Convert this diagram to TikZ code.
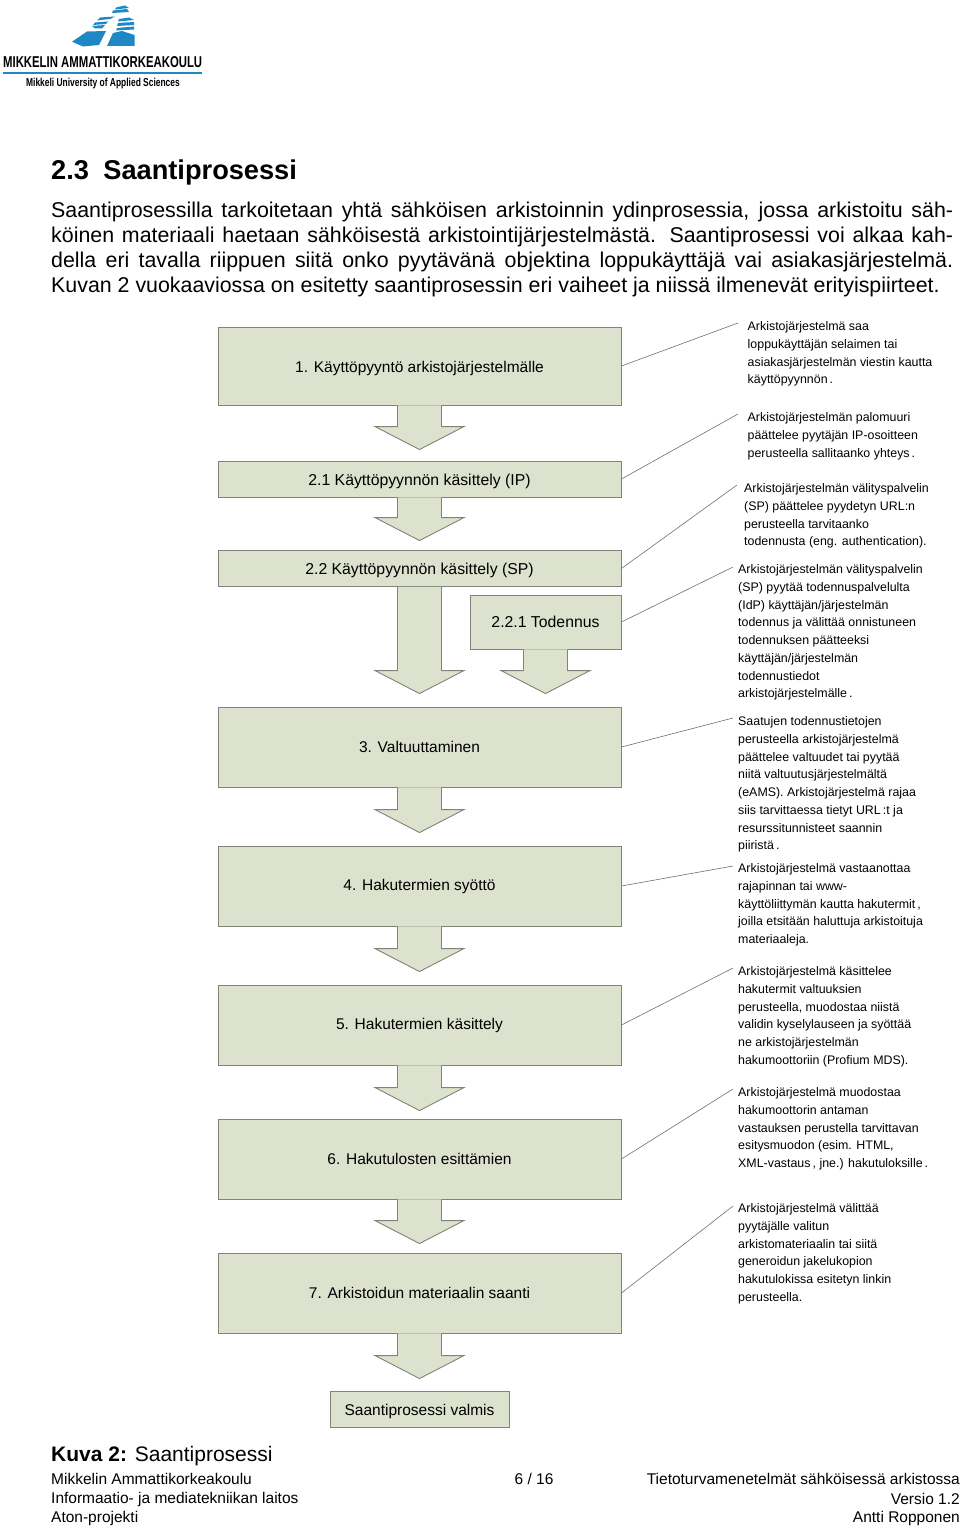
\documentclass[tikz,border=0pt]{standalone}
\usepackage{fontspec}
\setmainfont{Liberation Sans}
\usetikzlibrary{calc}

\definecolor{boxfill}{RGB}{221,226,206}
\definecolor{boxline}{RGB}{128,132,118}
\definecolor{leaderline}{RGB}{110,110,110}
\definecolor{logoblue}{RGB}{30,136,196}

\tikzset{
    stepbox/.style={rectangle, draw=boxline, fill=boxfill, line width=0.9pt, inner sep=0pt, align=center, font=\fontsize{15.5}{18}\selectfont},
    lowtext/.style={text height=12.1pt, text depth=0pt},
    widetext/.style={font=\fontsize{15.8}{18}\selectfont},
    note/.style={anchor=north west, inner sep=0pt, align=left, font=\fontsize{12.4}{17.75}\selectfont},
    leader/.style={draw=leaderline, line width=0.6pt},
    bodytext/.style={anchor=west, inner sep=0pt, font=\fontsize{21.37}{25}\selectfont},
    foot/.style={inner sep=0pt, font=\fontsize{15.5}{19.5}\selectfont},
    logopart/.style={fill=logoblue, draw=none}
}

% block arrow: source node, target node, gap above the target
\newcommand{\blockarrow}[3]{
    \path let \p1=(#1.south), \p2=(#2.north) in
        coordinate (tip) at (\x1,\y2+#3pt)
        coordinate (top) at (\x1,\y1);
    \fill [boxfill] let \p1=(top), \p2=(tip) in
        (\x1-22pt,\y1) -- (\x1-22pt,\y2+23pt) -- (\x1-44.5pt,\y2+23pt) -- (tip)
        -- (\x1+44.5pt,\y2+23pt) -- (\x1+22pt,\y2+23pt) -- (\x1+22pt,\y1) -- cycle;
    \draw [boxline, line width=0.9pt] let \p1=(top), \p2=(tip) in
        (\x1-22pt,\y1) -- (\x1-22pt,\y2+23pt) -- (\x1-44.5pt,\y2+23pt) -- (tip)
        -- (\x1+44.5pt,\y2+23pt) -- (\x1+22pt,\y2+23pt) -- (\x1+22pt,\y1);
}

\begin{document}
\begin{tikzpicture}[x=1pt, y=-1pt]

\useasboundingbox (0,0) rectangle (960,1528);

% logo
\fill [logopart] (72,41.7) -- (87,31.5) -- (106,31) -- (99,45) -- (83,46.5) -- cycle;
\fill [logopart] (107,46) -- (113,33) -- (122,31) -- (134.5,35) -- (134.5,46) -- cycle;
\fill [logopart] (92,26) -- (105,25) -- (102,28.5) -- (95,28.5) -- cycle;
\fill [logopart] (95,22.5) -- (108,21.5) -- (106,24) -- (93,25) -- cycle;
\fill [logopart] (100,17.5) -- (115,16.5) -- (110,19) -- (97,20.5) -- cycle;
\fill [logopart] (117,28) -- (134,26.5) -- (134,29.5) -- (116,30.5) -- cycle;
\fill [logopart] (118,23) -- (134,22) -- (134,25) -- (117,26) -- cycle;
\fill [logopart] (119,19) -- (129,17.5) -- (134,20) -- (118,21.5) -- cycle;
\fill [logopart] (113,10.5) -- (127,9) -- (129,12) -- (112,13) -- cycle;
\fill [logopart] (116,7.5) -- (125,5.5) -- (129,8) -- (115,9.5) -- cycle;
\node [inner sep=0pt, anchor=west, font=\bfseries\fontsize{15.7}{17}\selectfont, xscale=0.723] (logoname) at (3,62) {MIKKELIN AMMATTIKORKEAKOULU};
\draw [logoblue, line width=1.8pt] (3,72.7) -- (202,72.7);
\node [inner sep=0pt, anchor=west, font=\bfseries\fontsize{11.5}{13}\selectfont, xscale=0.733] (logosub) at (26,84) {Mikkeli University of Applied Sciences};

% section text
\node [anchor=west, inner sep=0pt, font=\bfseries\fontsize{27.2}{30}\selectfont] (heading) at (51,172) {2.3\hspace{0.53em}Saantiprosessi};
\node [bodytext] (line1) at (51,212) {\hbox to 902pt{Saantiprosessilla tarkoitetaan yhtä sähköisen arkistoinnin ydinprosessia, jossa arkistoitu säh-}};
\node [bodytext] (line2) at (51,237) {\hbox to 902pt{köinen materiaali haetaan sähköisestä arkistointijärjestelmästä. Saantiprosessi voi alkaa kah-}};
\node [bodytext] (line3) at (51,262) {\hbox to 902pt{della eri tavalla riippuen siitä onko pyytävänä objektina loppukäyttäjä vai asiakasjärjestelmä.}};
\node [bodytext] (line4) at (51,287) {Kuvan 2 vuokaaviossa on esitetty saantiprosessin eri vaiheet ja niissä ilmenevät erityispiirteet.};

% process boxes
\node [stepbox, lowtext, minimum width=403pt, minimum height=78pt] (pyynto) at (419.5,366) {1. Käyttöpyyntö arkistojärjestelmälle};
\node [stepbox, lowtext, widetext, minimum width=403pt, minimum height=36pt] (ip) at (419.5,479) {2.1 Käyttöpyynnön käsittely (IP)};
\node [stepbox, lowtext, widetext, minimum width=403pt, minimum height=36pt] (sp) at (419.5,568.5) {2.2 Käyttöpyynnön käsittely (SP)};
\node [stepbox, widetext, minimum width=151pt, minimum height=54pt] (todennus) at (545.5,622) {2.2.1 Todennus};
\node [stepbox, minimum width=403pt, minimum height=80pt] (valtuutus) at (419.5,747) {3. Valtuuttaminen};
\node [stepbox, minimum width=403pt, minimum height=80pt] (syotto) at (419.5,886) {4. Hakutermien syöttö};
\node [stepbox, minimum width=403pt, minimum height=80pt] (kasittely) at (419.5,1025) {5. Hakutermien käsittely};
\node [stepbox, minimum width=403pt, minimum height=80pt] (esitys) at (419.5,1159) {6. Hakutulosten esittämien};
\node [stepbox, minimum width=403pt, minimum height=80pt] (saanti) at (419.5,1293) {7. Arkistoidun materiaalin saanti};
\node [stepbox, lowtext, minimum width=179pt, minimum height=36pt] (valmis) at (419.5,1409) {Saantiprosessi valmis};

% arrows
\blockarrow{pyynto}{ip}{11}
\blockarrow{ip}{sp}{9.5}
\blockarrow{sp}{valtuutus}{13}
\blockarrow{todennus}{valtuutus}{13}
\blockarrow{valtuutus}{syotto}{13}
\blockarrow{syotto}{kasittely}{13}
\blockarrow{kasittely}{esitys}{8}
\blockarrow{esitys}{saanti}{9}
\blockarrow{saanti}{valmis}{12}

% notes
\node [note] (n1) at (747.5,321.5) {Arkistojärjestelmä saa\\loppukäyttäjän selaimen tai\\asiakasjärjestelmän viestin kautta\\käyttöpyynnön\,.};
\node [note] (n2) at (747.5,412.5) {Arkistojärjestelmän palomuuri\\päättelee pyytäjän IP-osoitteen\\perusteella sallitaanko yhteys\,.};
\node [note] (n3) at (744,483.5) {Arkistojärjestelmän välityspalvelin\\(SP) päättelee pyydetyn URL:n\\perusteella tarvitaanko\\todennusta (eng. authentication).};
\node [note] (n4) at (738,564.5) {Arkistojärjestelmän välityspalvelin\\(SP) pyytää todennuspalvelulta\\(IdP) käyttäjän/järjestelmän\\todennus ja välittää onnistuneen\\todennuksen päätteeksi\\käyttäjän/järjestelmän\\todennustiedot\\arkistojärjestelmälle\,.};
\node [note] (n5) at (738,716.5) {Saatujen todennustietojen\\perusteella arkistojärjestelmä\\päättelee valtuudet tai pyytää\\niitä valtuutusjärjestelmältä\\(eAMS). Arkistojärjestelmä rajaa\\siis tarvittaessa tietyt URL\,:t ja\\resurssitunnisteet saannin\\piiristä\,.};
\node [note] (n6) at (738,863.5) {Arkistojärjestelmä vastaanottaa\\rajapinnan tai www-\\käyttöliittymän kautta hakutermit\,,\\joilla etsitään haluttuja arkistoituja\\materiaaleja.};
\node [note] (n7) at (738,966.5) {Arkistojärjestelmä käsittelee\\hakutermit valtuuksien\\perusteella, muodostaa niistä\\validin kyselylauseen ja syöttää\\ne arkistojärjestelmän\\hakumoottoriin (Profium MDS).};
\node [note] (n8) at (738,1087.5) {Arkistojärjestelmä muodostaa\\hakumoottorin antaman\\vastauksen perustella tarvittavan\\esitysmuodon (esim. HTML,\\XML-vastaus\,, jne.) hakutuloksille\,.};
\node [note] (n9) at (738,1203.5) {Arkistojärjestelmä välittää\\pyytäjälle valitun\\arkistomateriaalin tai siitä\\generoidun jakelukopion\\hakutulokissa esitetyn linkin\\perusteella.};

% leader lines
\coordinate (c1) at (738,323);
\coordinate (c2) at (738,414);
\coordinate (c3) at (737,485);
\coordinate (c4) at (733,567);
\coordinate (c5) at (733,718);
\coordinate (c6) at (733,866);
\coordinate (c7) at (733,968);
\coordinate (c8) at (733,1089);
\coordinate (c9) at (733,1206);
\draw [leader] (pyynto.east) -- (c1);
\draw [leader] (ip.east) -- (c2);
\draw [leader] (sp.east) -- (c3);
\draw [leader] (todennus.east) -- (c4);
\draw [leader] (valtuutus.east) -- (c5);
\draw [leader] (syotto.east) -- (c6);
\draw [leader] (kasittely.east) -- (c7);
\draw [leader] (esitys.east) -- (c8);
\draw [leader] (saanti.east) -- (c9);

% caption and footer
\node [anchor=west, inner sep=0pt, font=\fontsize{21}{24}\selectfont] (kuva) at (51,1456) {\textbf{Kuva 2:} Saantiprosessi};
\node [foot, anchor=west] (f1) at (51,1479) {Mikkelin Ammattikorkeakoulu};
\node [foot, anchor=west] (f2) at (51,1499) {Informaatio- ja mediatekniikan laitos};
\node [foot, anchor=west] (f3) at (51,1518) {Aton-projekti};
\node [foot] (f4) at (534,1479) {6 / 16};
\node [foot, anchor=east] (f5) at (960,1479) {Tietoturvamenetelmät sähköisessä arkistossa};
\node [foot, anchor=east] (f6) at (960,1499) {Versio 1.2};
\node [foot, anchor=east] (f7) at (960,1518) {Antti Ropponen};

\end{tikzpicture}
\end{document}
